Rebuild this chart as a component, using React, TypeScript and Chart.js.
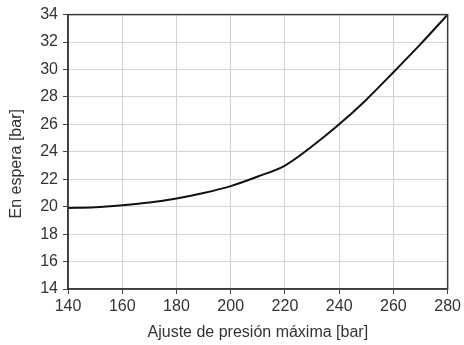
import React, { useEffect, useRef } from "react";
import { Chart, registerables } from "chart.js";

Chart.register(...registerables);

const pressureSetting = [140, 150, 160, 170, 180, 190, 200, 210, 220, 230, 240, 250, 260, 270, 280];
const standbyPressure = [19.9, 19.95, 20.1, 20.3, 20.6, 21.0, 21.5, 22.2, 23.0, 24.4, 26.0, 27.8, 29.8, 31.85, 34.0];
const xTitle = "Ajuste de presión máxima [bar]";
const yTitle = "En espera [bar]";

const FONT = "'Liberation Sans', Arial, Helvetica, sans-serif";

const framePlugin = {
  id: "frame",
  afterDraw(chart: any) {
    const { ctx, chartArea } = chart;
    ctx.save();
    ctx.strokeStyle = "#3a3a3a";
    ctx.lineWidth = 1.5;
    ctx.strokeRect(chartArea.left, chartArea.top, chartArea.right - chartArea.left, chartArea.bottom - chartArea.top);
    // y-axis title, slightly below the vertical centre as in the reference
    ctx.translate(17, (chartArea.top + chartArea.bottom) / 2 + 12);
    ctx.rotate(-Math.PI / 2);
    ctx.fillStyle = "#333";
    ctx.font = `16px ${FONT}`;
    ctx.textAlign = "center";
    ctx.textBaseline = "middle";
    ctx.fillText(yTitle, 0, 0);
    ctx.restore();
  },
};

export default function App() {
  const ref = useRef<HTMLCanvasElement>(null);
  useEffect(() => {
    if (!ref.current) return;
    const chart = new Chart(ref.current, {
      type: "line",
      data: {
        datasets: [
          {
            data: pressureSetting.map((x, i) => ({ x, y: standbyPressure[i] })),
            borderColor: "#111",
            borderWidth: 2,
            pointRadius: 0,
            cubicInterpolationMode: "monotone",
            fill: false,
          },
        ],
      },
      options: {
        animation: false,
        responsive: false,
        maintainAspectRatio: false,
        layout: { padding: { top: 14, right: 15, left: 0, bottom: 0 } },
        plugins: { legend: { display: false }, tooltip: { enabled: false } },
        scales: {
          x: {
            type: "linear",
            min: 140,
            max: 280,
            ticks: { stepSize: 20, color: "#333", font: { family: FONT, size: 16 }, padding: 3 },
            grid: { color: "#d4d4d4", lineWidth: 1, tickColor: "#444", tickLength: 5 },
            border: { color: "#3a3a3a", width: 1.5 },
            title: { display: true, text: xTitle, color: "#333", font: { family: FONT, size: 16 }, padding: { top: 4, bottom: 3 } },
            afterFit(scale: any) {
              scale.height = 56;
            },
          },
          y: {
            min: 14,
            max: 34,
            ticks: { stepSize: 2, color: "#333", font: { family: FONT, size: 16 }, padding: 5 },
            grid: { color: "#d4d4d4", lineWidth: 1, tickColor: "#444", tickLength: 5 },
            border: { color: "#3a3a3a", width: 1.5 },
            title: { display: false },
            afterFit(scale: any) {
              scale.width = 68;
            },
          },
        },
      },
      plugins: [framePlugin],
    });
    return () => chart.destroy();
  }, []);
  return (
    <div style={{ position: "fixed", left: 0, top: 0, width: 464, height: 345, background: "#fff" }}>
      <canvas ref={ref} width={464} height={345} style={{ width: 464, height: 345 }} />
    </div>
  );
}
